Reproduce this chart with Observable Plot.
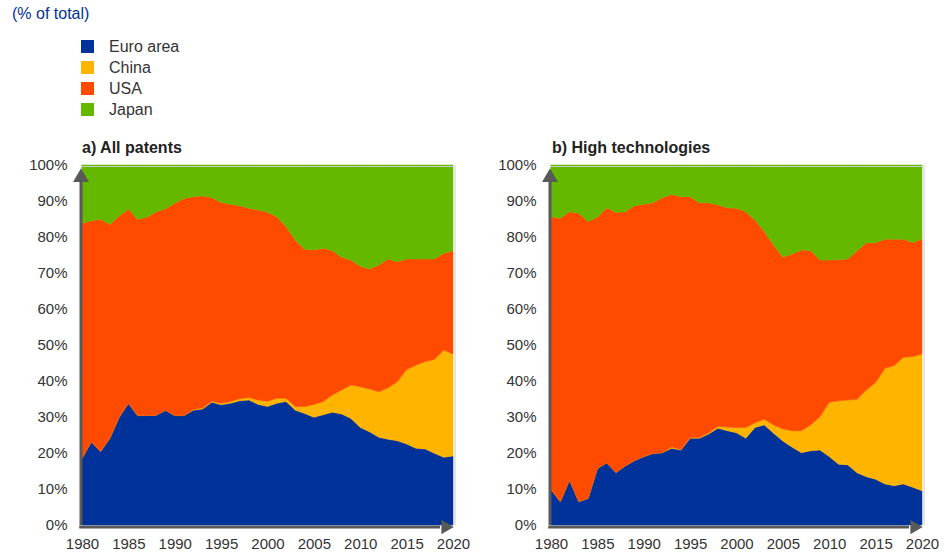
<!DOCTYPE html>
<html>
<head>
<meta charset="utf-8">
<script src="https://cdn.jsdelivr.net/npm/d3@7"></script>
<script src="https://cdn.jsdelivr.net/npm/@observablehq/plot@0.6"></script>
<style>
  html, body { margin: 0; padding: 0; background: #fff; }
  #wrap { position: relative; width: 952px; height: 558px; overflow: hidden; font-family: "Liberation Sans", Arial, sans-serif; color: #333; }
  .abs { position: absolute; }
  #subtitle { left: 12px; top: 5px; font-size: 16px; color: #003299; }
  .leg { left: 81px; font-size: 16px; color: #333; height: 13px; line-height: 13px; white-space: nowrap; }
  .leg span.sw { display: inline-block; width: 13px; height: 13px; vertical-align: top; margin-right: 15px; }
  .ptitle { top: 139px; font-size: 16px; font-weight: bold; color: #222; }
</style>
</head>
<body>
<div id="wrap">
  <div id="subtitle" class="abs">(% of total)</div>
  <div id="legend"></div>
  <div id="titleA" class="abs ptitle" style="left:82px">a) All patents</div>
  <div id="titleB" class="abs ptitle" style="left:552px">b) High technologies</div>
  <div id="panelA" class="abs" style="left:0px; top:155px"></div>
  <div id="panelB" class="abs" style="left:470px; top:155px"></div>
</div>
<script>
const countries = ["Euro area", "China", "USA", "Japan"];
const colors = ["#003299", "#FFB400", "#FF4B00", "#65B800"];
const years = [1980,1981,1982,1983,1984,1985,1986,1987,1988,1989,1990,1991,1992,1993,1994,1995,1996,1997,1998,1999,
               2000,2001,2002,2003,2004,2005,2006,2007,2008,2009,2010,2011,2012,2013,2014,2015,2016,2017,2018,2019,2020];
const xTicks = [1980, 1985, 1990, 1995, 2000, 2005, 2010, 2015, 2020];
const yTicks = [0, 10, 20, 30, 40, 50, 60, 70, 80, 90, 100];

// a) All patents (% of total)
const allEuro  = [18.5,23.1,20.4,24.1,29.9,33.8,30.4,30.4,30.5,31.9,30.4,30.4,31.9,32.2,34.1,33.4,33.8,34.5,34.7,33.5,
                  32.9,33.8,34.3,31.9,31.0,29.9,30.6,31.3,30.8,29.6,27.1,25.9,24.4,23.8,23.4,22.5,21.3,21.1,19.9,18.8,19.2];
const allChina = [0,0,0,0,0,0,0,0,0,0,0,0,0.2,0.3,0.3,0.4,0.5,0.6,0.7,1.2,
                  1.5,1.4,0.9,1.0,1.9,3.6,3.7,4.8,6.7,9.3,11.3,11.9,12.6,14.3,16.4,20.7,23.1,24.3,26.1,29.8,28.3];
const allUSA   = [65.3,61.4,64.5,59.4,55.9,54.0,54.5,55.1,56.5,55.9,59.0,60.3,59.1,58.9,56.6,55.8,54.8,53.6,52.6,52.8,
                  52.5,50.4,47.7,46.3,43.7,42.9,42.6,40.1,36.9,34.7,33.5,33.3,35.2,35.8,33.3,30.7,29.5,28.5,27.9,26.9,28.7];
const allJapan = [16.2,15.5,15.1,16.5,14.2,12.2,15.1,14.5,13.0,12.2,10.6,9.3,8.8,8.6,9.0,10.4,10.9,11.3,12.0,12.5,
                  13.1,14.4,17.1,20.8,23.4,23.6,23.1,23.8,25.6,26.4,28.1,28.9,27.8,26.1,26.9,26.1,26.1,26.1,26.1,24.5,23.8];

// b) High technologies (% of total)
const hiEuro  = [9.9,6.5,12.5,6.5,7.4,15.7,17.3,14.6,16.4,17.9,19.0,19.9,20.1,21.3,20.8,24.1,24.1,25.3,26.9,26.2,
                 25.6,24.1,27.1,27.8,25.5,23.3,21.6,20.1,20.6,20.8,19.0,16.9,16.7,14.5,13.4,12.7,11.4,10.9,11.4,10.5,9.5];
const hiChina = [0,0,0,0,0,0,0,0,0,0,0,0,0,0.4,0.2,0.2,0.2,0.3,0.5,1.0,
                 1.5,3.0,1.3,1.6,2.3,3.4,4.6,6.1,7.2,9.3,15.1,17.6,18.0,20.4,24.1,26.9,32.1,33.4,35.2,36.3,38.0];
const hiUSA   = [75.7,78.7,74.5,80.1,76.9,69.8,70.8,72.2,70.6,70.8,70.1,69.6,70.8,70.1,70.2,66.9,65.2,63.9,61.5,60.9,
                 60.9,59.9,56.3,52.1,50.0,47.7,49.1,50.2,48.4,43.5,39.5,39.2,39.2,41.3,40.9,38.8,35.9,35.1,32.8,31.7,31.9];
const hiJapan = [14.4,14.8,13.0,13.4,15.7,14.5,11.9,13.2,13.0,11.3,10.9,10.5,9.1,8.2,8.8,8.8,10.5,10.5,11.1,11.9,
                 12.0,13.0,15.3,18.5,22.2,25.6,24.7,23.6,23.8,26.4,26.4,26.3,26.1,23.8,21.6,21.6,20.6,20.6,20.6,21.5,20.6];

function toRows(series) {
  const rows = [];
  countries.forEach((c, k) => {
    years.forEach((yr, i) => rows.push({year: yr, country: c, value: series[k][i]}));
  });
  return rows;
}

// Legend
const legend = document.getElementById("legend");
const legTops = [40, 61, 82, 103];
countries.forEach((c, i) => {
  const d = document.createElement("div");
  d.className = "abs leg";
  d.style.top = legTops[i] + "px";
  d.innerHTML = `<span class="sw" style="background:${colors[i]}"></span>${c}`;
  legend.appendChild(d);
});

const axisGray = "#595959";

function panel(series, marginLeft, marginRight) {
  const data = toRows(series);
  return Plot.plot({
    width: 470,
    height: 403,
    marginLeft,
    marginRight,
    marginTop: 10,
    marginBottom: 33,
    style: {fontFamily: "'Liberation Sans', Arial, sans-serif", fontSize: "15px", color: "#333", background: "transparent", overflow: "visible"},
    x: {domain: [1980, 2020], ticks: xTicks, tickFormat: d => String(d), tickSize: 0, tickPadding: 13, label: null},
    y: {domain: [0, 100], ticks: yTicks, tickFormat: d => d + "%", tickSize: 0, tickPadding: 15, label: null},
    color: {domain: countries, range: colors},
    marks: [
      Plot.areaY(data, {x: "year", y: "value", fill: "country", stroke: "country", strokeWidth: 0.5, order: countries}),
      Plot.ruleY([100], {x1: 1980, x2: 2020, stroke: "#cccccc", strokeWidth: 1, dy: 1}),
      Plot.ruleX([2020], {y1: 0, y2: 100, stroke: "#cccccc", strokeWidth: 1, dx: 1.5}),
      Plot.ruleX([1980], {y1: 0, y2: 96, stroke: axisGray, strokeWidth: 3, dx: -1.5}),
      Plot.ruleY([0], {x1: 1979.7, x2: 2018.6, stroke: axisGray, strokeWidth: 3, dy: 1.5}),
      Plot.dot([{x: 1980, y: 100}], {x: "x", y: "y", symbol: "triangle", r: 5.9, fill: axisGray, stroke: null, dx: -1.5, dy: 12}),
      Plot.dot([{x: 2020, y: 0}], {x: "x", y: "y", symbol: "triangle", r: 5.3, rotate: 90, fill: axisGray, stroke: null, dx: -8, dy: 1.5})
    ]
  });
}

document.getElementById("panelA").appendChild(panel([allEuro, allChina, allUSA, allJapan], 82, 17));
document.getElementById("panelB").appendChild(panel([hiEuro, hiChina, hiUSA, hiJapan], 81, 18));
</script>
</body>
</html>
